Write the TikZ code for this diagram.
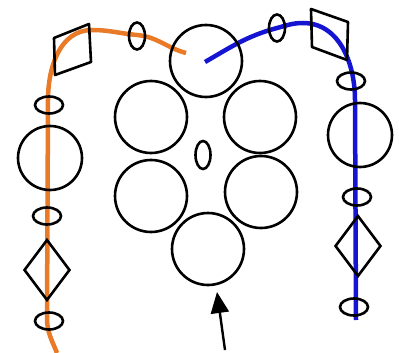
\documentclass[tikz,border=0pt]{standalone}
\usepackage{tikz}
\usetikzlibrary{arrows.meta,shapes.geometric}
\definecolor{chainorange}{RGB}{232,122,40}
\definecolor{chainblue}{RGB}{20,20,210}

\begin{document}
\begin{tikzpicture}[x=1pt,y=-1pt,
    ring/.style={circle,draw,line width=2.6pt,minimum size=72pt,inner sep=0pt},
    bigbead/.style={circle,draw,line width=2.6pt,minimum size=64pt,inner sep=0pt},
    flatbead/.style={ellipse,draw,line width=2.6pt,minimum width=28pt,minimum height=17pt,inner sep=0pt},
    tallbead/.style={ellipse,draw,line width=2.6pt,minimum width=16pt,minimum height=27pt,inner sep=0pt},
    rhomb/.style={diamond,draw,line width=2.6pt,minimum width=46pt,minimum height=61pt,inner sep=0pt},
    orangeline/.style={chainorange,line width=4.5pt},
    blueline/.style={chainblue,line width=4.5pt}]
    \useasboundingbox (0,0) rectangle (399,353);
    % colored strands first, beads on top
    \draw[orangeline] (186,53) to[out=165,in=-5] (137,35) to[out=175,in=0] (92,30)
      to[out=180,in=90] (48,100) -- (47,318) to[out=-90,in=112] (57,353);
    \draw[blueline] (205,62) to[out=30,in=-165] (277,28) to[out=15,in=180] (303,23)
      to[out=0,in=90] (355,100) -- (356,320);
    % hexagon of rings
    \node[ring] (top) at (206,61) {};
    \node[ring] (upl) at (151,117) {};
    \node[ring] (upr) at (260,117) {};
    \node[ring] (lol) at (151,196) {};
    \node[ring] (lor) at (261,192) {};
    \node[ring] (bot) at (208,249) {};
    \node[tallbead,minimum width=15pt,minimum height=28pt] (mid) at (203,155) {};
    % left strand beads
    \node[tallbead] (lte) at (137,36) {};
    \draw[line width=2.6pt,line join=round] (54,38) -- (89,24) -- (91,62) -- (55,75) -- cycle;
    \node[flatbead] (le1) at (49,105) {};
    \node[bigbead] (lc) at (50,158) {};
    \node[flatbead] (le2) at (47,216) {};
    \node[rhomb] (ld) at (47,270) {};
    \node[flatbead] (le3) at (49,321) {};
    % right strand beads
    \node[tallbead] (rte) at (277,28) {};
    \draw[line width=2.6pt,line join=round] (311,9) -- (348,22) -- (347,60) -- (312,47) -- cycle;
    \node[flatbead] (re1) at (351,81) {};
    \node[bigbead] (rc) at (360,135) {};
    \node[flatbead] (re2) at (357,197) {};
    \node[rhomb] (rd) at (358,246) {};
    \node[flatbead] (re3) at (354,307) {};
    % arrow
    \coordinate (tail) at (225,350);
    \draw[line width=2.4pt,-{Triangle[length=21pt,width=18pt]}] (tail) -- (217,292);
\end{tikzpicture}
\end{document}
